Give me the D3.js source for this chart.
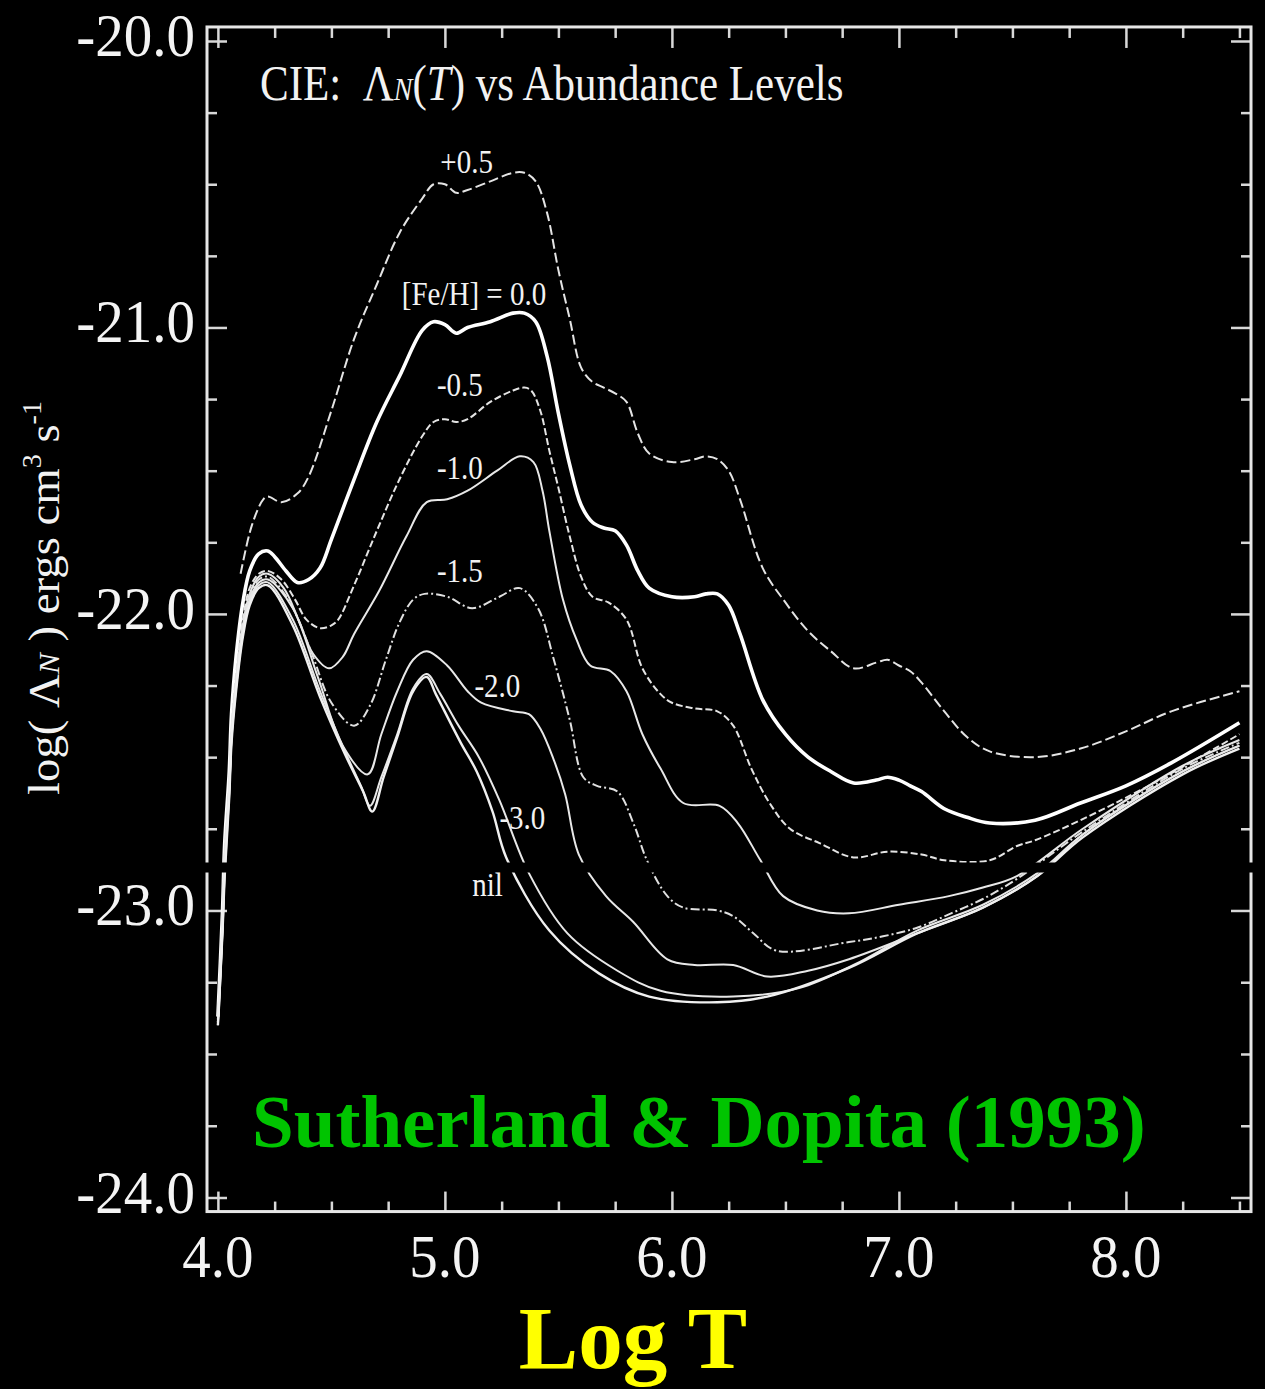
<!DOCTYPE html>
<html>
<head>
<meta charset="utf-8">
<script src="https://cdn.jsdelivr.net/npm/d3@7/dist/d3.min.js"></script>
<style>
  html, body { margin: 0; padding: 0; background: #000; }
  svg { display: block; }
  text { font-family: "Liberation Serif", "Times New Roman", Times, serif; white-space: pre; }
</style>
</head>
<body>
<svg id="chart" width="1265" height="1389"></svg>
<script>
// ---- CIE cooling functions, log(Lambda_N) vs log T, one array per abundance level ----
const feHPlus05 = [[4.10,-21.86],[4.15,-21.69],[4.20,-21.60],[4.22,-21.59],[4.28,-21.61],[4.35,-21.58],[4.40,-21.52],[4.50,-21.29],[4.60,-21.04],[4.70,-20.85],[4.80,-20.67],[4.90,-20.55],[4.95,-20.50],[5.00,-20.50],[5.05,-20.53],[5.10,-20.52],[5.20,-20.49],[5.30,-20.46],[5.35,-20.46],[5.40,-20.49],[5.45,-20.60],[5.50,-20.80],[5.55,-20.97],[5.60,-21.14],[5.65,-21.19],[5.70,-21.21],[5.75,-21.23],[5.80,-21.26],[5.85,-21.37],[5.90,-21.44],[6.00,-21.47],[6.10,-21.46],[6.15,-21.45],[6.20,-21.46],[6.25,-21.50],[6.30,-21.60],[6.40,-21.84],[6.50,-21.96],[6.60,-22.06],[6.70,-22.13],[6.80,-22.19],[6.90,-22.17],[6.95,-22.16],[7.00,-22.18],[7.05,-22.20],[7.10,-22.24],[7.20,-22.34],[7.30,-22.43],[7.40,-22.48],[7.60,-22.50],[7.80,-22.47],[8.00,-22.41],[8.20,-22.34],[8.50,-22.27]];

const feH00 = [[4.00,-23.37],[4.02,-23.01],[4.03,-22.80],[4.05,-22.55],[4.06,-22.35],[4.08,-22.15],[4.11,-21.96],[4.14,-21.85],[4.18,-21.79],[4.22,-21.78],[4.25,-21.80],[4.30,-21.85],[4.35,-21.89],[4.40,-21.88],[4.45,-21.84],[4.50,-21.74],[4.60,-21.53],[4.70,-21.33],[4.80,-21.17],[4.90,-21.01],[4.95,-20.98],[5.00,-20.99],[5.05,-21.02],[5.10,-21.00],[5.20,-20.98],[5.30,-20.95],[5.35,-20.95],[5.40,-20.98],[5.45,-21.10],[5.50,-21.30],[5.55,-21.48],[5.60,-21.62],[5.65,-21.68],[5.70,-21.70],[5.75,-21.71],[5.80,-21.76],[5.85,-21.85],[5.90,-21.91],[6.00,-21.94],[6.10,-21.94],[6.15,-21.93],[6.20,-21.93],[6.25,-21.97],[6.30,-22.07],[6.40,-22.30],[6.50,-22.42],[6.60,-22.50],[6.70,-22.55],[6.80,-22.59],[6.90,-22.58],[6.95,-22.57],[7.00,-22.58],[7.05,-22.60],[7.10,-22.62],[7.20,-22.68],[7.30,-22.71],[7.40,-22.73],[7.60,-22.72],[7.80,-22.66],[8.00,-22.60],[8.20,-22.52],[8.50,-22.38]];

const feHMinus05 = [[4.00,-23.38],[4.02,-23.03],[4.03,-22.83],[4.05,-22.59],[4.06,-22.40],[4.08,-22.21],[4.11,-22.02],[4.14,-21.91],[4.18,-21.86],[4.22,-21.85],[4.28,-21.88],[4.34,-21.95],[4.39,-22.02],[4.45,-22.05],[4.50,-22.04],[4.53,-22.02],[4.60,-21.90],[4.70,-21.71],[4.80,-21.53],[4.90,-21.38],[4.95,-21.33],[5.00,-21.32],[5.05,-21.33],[5.10,-21.32],[5.20,-21.26],[5.30,-21.22],[5.35,-21.21],[5.38,-21.22],[5.42,-21.29],[5.46,-21.43],[5.50,-21.56],[5.55,-21.73],[5.60,-21.87],[5.65,-21.94],[5.72,-21.96],[5.80,-22.02],[5.87,-22.19],[5.95,-22.28],[6.00,-22.31],[6.10,-22.33],[6.20,-22.34],[6.27,-22.39],[6.35,-22.54],[6.43,-22.66],[6.52,-22.75],[6.65,-22.80],[6.80,-22.85],[6.95,-22.83],[7.10,-22.84],[7.20,-22.86],[7.40,-22.86],[7.52,-22.81],[7.60,-22.79],[7.80,-22.72],[8.10,-22.60],[8.50,-22.42]];

const feHMinus10 = [[4.00,-23.38],[4.02,-23.04],[4.03,-22.84],[4.05,-22.60],[4.06,-22.41],[4.08,-22.23],[4.11,-22.04],[4.14,-21.93],[4.18,-21.87],[4.22,-21.86],[4.29,-21.91],[4.36,-22.03],[4.42,-22.14],[4.49,-22.19],[4.55,-22.15],[4.60,-22.07],[4.71,-21.92],[4.83,-21.73],[4.92,-21.61],[5.01,-21.60],[5.10,-21.57],[5.23,-21.50],[5.33,-21.45],[5.39,-21.47],[5.43,-21.57],[5.46,-21.71],[5.52,-21.95],[5.58,-22.09],[5.64,-22.18],[5.73,-22.20],[5.80,-22.27],[5.87,-22.42],[5.95,-22.54],[6.05,-22.66],[6.21,-22.67],[6.29,-22.73],[6.39,-22.86],[6.49,-22.95],[6.64,-23.00],[6.78,-23.01],[7.00,-22.98],[7.22,-22.95],[7.37,-22.92],[7.52,-22.88],[7.81,-22.75],[8.25,-22.53],[8.50,-22.44]];

const feHMinus15 = [[4.00,-23.39],[4.02,-23.05],[4.03,-22.85],[4.05,-22.61],[4.06,-22.42],[4.08,-22.24],[4.11,-22.05],[4.14,-21.94],[4.18,-21.88],[4.22,-21.87],[4.31,-21.95],[4.41,-22.13],[4.50,-22.31],[4.60,-22.39],[4.67,-22.32],[4.74,-22.16],[4.80,-22.03],[4.86,-21.95],[4.91,-21.93],[5.01,-21.94],[5.12,-21.98],[5.24,-21.94],[5.33,-21.91],[5.41,-21.98],[5.48,-22.16],[5.55,-22.37],[5.61,-22.57],[5.67,-22.60],[5.76,-22.62],[5.83,-22.73],[5.89,-22.86],[5.98,-22.95],[6.05,-22.99],[6.20,-23.00],[6.27,-23.02],[6.36,-23.08],[6.46,-23.14],[6.78,-23.11],[6.93,-23.09],[7.08,-23.06],[7.23,-23.01],[7.37,-22.96],[7.52,-22.89],[7.81,-22.76],[8.25,-22.54],[8.50,-22.45]];

const feHMinus20 = [[4.00,-23.39],[4.02,-23.06],[4.03,-22.86],[4.05,-22.62],[4.06,-22.43],[4.08,-22.25],[4.11,-22.06],[4.14,-21.95],[4.18,-21.89],[4.22,-21.88],[4.33,-21.98],[4.44,-22.22],[4.55,-22.46],[4.66,-22.56],[4.72,-22.42],[4.79,-22.27],[4.86,-22.16],[4.92,-22.13],[5.01,-22.18],[5.10,-22.27],[5.16,-22.31],[5.30,-22.34],[5.37,-22.35],[5.42,-22.40],[5.48,-22.51],[5.53,-22.63],[5.59,-22.84],[5.71,-22.95],[5.83,-23.04],[5.98,-23.17],[6.10,-23.19],[6.27,-23.19],[6.42,-23.23],[6.60,-23.21],[6.78,-23.17],[7.08,-23.08],[7.37,-22.99],[7.61,-22.88],[7.81,-22.77],[8.25,-22.55],[8.50,-22.46]];

const feHMinus30 = [[4.00,-23.40],[4.02,-23.07],[4.03,-22.87],[4.05,-22.63],[4.06,-22.44],[4.08,-22.26],[4.11,-22.07],[4.14,-21.96],[4.18,-21.90],[4.22,-21.89],[4.33,-22.02],[4.45,-22.27],[4.56,-22.48],[4.63,-22.60],[4.67,-22.67],[4.72,-22.57],[4.79,-22.42],[4.86,-22.26],[4.92,-22.21],[4.98,-22.28],[5.06,-22.39],[5.15,-22.50],[5.24,-22.65],[5.37,-22.87],[5.54,-23.08],[5.76,-23.21],[5.95,-23.28],[6.27,-23.30],[6.56,-23.27],[6.80,-23.19],[7.08,-23.07],[7.37,-22.98],[7.61,-22.87],[7.81,-22.77],[8.25,-22.55],[8.50,-22.46]];

const feHNil = [[4.00,-23.40],[4.02,-23.08],[4.03,-22.88],[4.05,-22.64],[4.06,-22.45],[4.08,-22.27],[4.11,-22.08],[4.14,-21.97],[4.18,-21.91],[4.22,-21.90],[4.33,-22.04],[4.45,-22.29],[4.56,-22.49],[4.64,-22.62],[4.68,-22.69],[4.73,-22.57],[4.79,-22.43],[4.86,-22.27],[4.92,-22.22],[4.96,-22.28],[5.07,-22.45],[5.14,-22.55],[5.21,-22.69],[5.27,-22.85],[5.46,-23.07],[5.68,-23.22],[5.90,-23.30],[6.20,-23.32],[6.42,-23.30],[6.78,-23.20],[7.08,-23.08],[7.37,-22.99],[7.61,-22.88],[7.81,-22.78],[8.25,-22.56],[8.50,-22.47]];

const seriesData = [feHPlus05, feH00, feHMinus05, feHMinus10, feHMinus15, feHMinus20, feHMinus30, feHNil];
const seriesLabels = ["+0.5", "[Fe/H] = 0.0", "-0.5", "-1.0", "-1.5", "-2.0", "-3.0", "nil"];
// where each abundance label sits, in (log T, log Lambda) units
const labelLogT = [4.98, 4.81, 4.965, 4.965, 4.965, 5.13, 5.24, 5.12];
const labelLogL = [-20.46, -20.92, -21.24, -21.53, -21.89, -22.29, -22.75, -22.95];

// axis ticks
const xMajorTicks = [4, 5, 6, 7, 8];
const xTickLabels = ["4.0", "5.0", "6.0", "7.0", "8.0"];
const yMajorTicks = [-20, -21, -22, -23, -24];
const yTickLabels = ["-20.0", "-21.0", "-22.0", "-23.0", "-24.0"];

// ---- styles ----
const lineDash  = ["10,4", null, "7,3", null, "9,3,2,3", null, null, null];
const lineWidth = [2, 3.6, 2, 2, 2, 2, 2, 2.4];
const lineColor = ["#e4e4e4", "#ffffff", "#e4e4e4", "#e8e8e8", "#e0e0e0", "#e8e8e8", "#e8e8e8", "#f0f0f0"];

const svg = d3.select("#chart");
svg.append("rect").attr("width", 1265).attr("height", 1389).attr("fill", "#000");

// horizontal: log T
const x = d3.scaleLinear().domain([3.952, 8.551]).range([207, 1251]);
// vertical: log Lambda, with the printed figure's seam just below -22.86
const y = d3.scaleLinear()
  .domain([-20, -22.866, -22.867, -24])
  .range([41, 862, 872.3, 1197.5]);

const xMinorTicks = d3.range(4, 8.501, 0.25).filter(v => !xMajorTicks.includes(v));
const yMinorTicks = d3.range(-20, -24.001, -0.25).filter(v => !yMajorTicks.includes(v));

const frameLeft = x(3.952), frameRight = x(8.551), frameTop = y(-19.951), frameBottom = y(-24.049);

// tick marks on all four sides, pointing into the plot
function ticks(axis, tr) {
  svg.append("g").attr("transform", tr).call(axis).call(g => {
    g.select(".domain").remove();
    g.selectAll("text").remove();
    g.selectAll("line").attr("stroke", "#d8d8d8").attr("stroke-width", 2.5);
  });
}
ticks(d3.axisBottom(x).tickValues(xMajorTicks).tickSize(-20).tickSizeOuter(0), `translate(0,${frameBottom})`);
ticks(d3.axisBottom(x).tickValues(xMinorTicks).tickSize(-10).tickSizeOuter(0), `translate(0,${frameBottom})`);
ticks(d3.axisTop(x).tickValues(xMajorTicks).tickSize(-21).tickSizeOuter(0), `translate(0,${frameTop})`);
ticks(d3.axisTop(x).tickValues(xMinorTicks).tickSize(-11).tickSizeOuter(0), `translate(0,${frameTop})`);
ticks(d3.axisLeft(y).tickValues(yMajorTicks).tickSize(-20).tickSizeOuter(0), `translate(${frameLeft},0)`);
ticks(d3.axisLeft(y).tickValues(yMinorTicks).tickSize(-10).tickSizeOuter(0), `translate(${frameLeft},0)`);
ticks(d3.axisRight(y).tickValues(yMajorTicks).tickSize(-20).tickSizeOuter(0), `translate(${frameRight},0)`);
ticks(d3.axisRight(y).tickValues(yMinorTicks).tickSize(-10).tickSizeOuter(0), `translate(${frameRight},0)`);

// frame
svg.append("rect")
  .attr("x", frameLeft).attr("y", frameTop)
  .attr("width", frameRight - frameLeft).attr("height", frameBottom - frameTop)
  .attr("fill", "none").attr("stroke", "#e6e6e6").attr("stroke-width", 3);

// curves
const line = d3.line()
  .x(d => x(d[0]))
  .y(d => y(d[1]))
  .curve(d3.curveCatmullRom.alpha(0.5));

svg.append("g").selectAll("path")
  .data(seriesData)
  .join("path")
  .attr("d", d => line(d))
  .attr("fill", "none")
  .attr("stroke", (d, i) => lineColor[i])
  .attr("stroke-width", (d, i) => lineWidth[i])
  .attr("stroke-dasharray", (d, i) => lineDash[i])
  .attr("stroke-linejoin", "round");

// the seam across the plot
svg.append("rect")
  .attr("x", 196).attr("y", y(-22.866) + 0.5)
  .attr("width", 1262 - 196).attr("height", 10)
  .attr("fill", "#000");

// abundance labels
svg.append("g").selectAll("text")
  .data(seriesLabels)
  .join("text")
  .attr("transform", (d, i) => `translate(${x(labelLogT[i])},${y(labelLogL[i])}) scale(1,1.15)`)
  .attr("fill", "#f2f2f2")
  .attr("font-size", 29)
  .text(d => d);

// tick labels
svg.append("g").selectAll("text")
  .data(xMajorTicks)
  .join("text")
  .attr("transform", d => `translate(${x(d)},1277) scale(1,1.09)`)
  .attr("text-anchor", "middle")
  .attr("fill", "#f4f4f4")
  .attr("font-size", 57)
  .text((d, i) => xTickLabels[i]);

svg.append("g").selectAll("text")
  .data(yMajorTicks)
  .join("text")
  .attr("transform", d => `translate(195,${y(d) + 15}) scale(1,1.09)`)
  .attr("text-anchor", "end")
  .attr("fill", "#f4f4f4")
  .attr("font-size", 57)
  .text((d, i) => yTickLabels[i]);

// panel title
const title = svg.append("text")
  .attr("transform", "translate(260,100) scale(1,1.16)")
  .attr("fill", "#f2f2f2")
  .attr("font-size", 43);
title.append("tspan").text("CIE:  \u039B");
title.append("tspan").attr("font-size", 28).attr("font-style", "italic").text("N");
title.append("tspan").text("(");
title.append("tspan").attr("font-style", "italic").text("T");
title.append("tspan").text(") vs Abundance Levels");

// vertical axis title
const yTitle = svg.append("text")
  .attr("transform", "translate(59,598) rotate(-90) scale(1.04,1)")
  .attr("text-anchor", "middle")
  .attr("fill", "#f2f2f2")
  .attr("font-size", 45);
yTitle.append("tspan").text("log( \u039B");
yTitle.append("tspan").attr("font-size", 30).attr("font-style", "italic").text("N");
yTitle.append("tspan").text(" ) ergs cm");
yTitle.append("tspan").attr("font-size", 27).attr("dy", -18).text("3");
yTitle.append("tspan").attr("dy", 18).text(" s");
yTitle.append("tspan").attr("font-size", 27).attr("dy", -18).text("-1");

// citation and horizontal axis title
svg.append("text")
  .attr("x", 252).attr("y", 1147)
  .attr("fill", "#00c400")
  .attr("font-size", 75)
  .attr("font-weight", "bold")
  .text("Sutherland & Dopita (1993)");

svg.append("text")
  .attr("x", 633).attr("y", 1368)
  .attr("text-anchor", "middle")
  .attr("fill", "#ffff00")
  .attr("font-size", 89)
  .attr("font-weight", "bold")
  .text("Log T");
</script>
</body>
</html>
